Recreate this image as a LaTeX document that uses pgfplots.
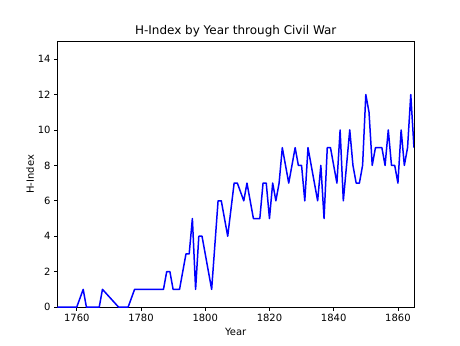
\documentclass[border=0pt]{standalone}
\usepackage{fontspec}
\setmainfont{DejaVu Sans}
\usepackage{pgfplots}
\pgfplotsset{compat=1.18}
\begin{document}
\begin{tikzpicture}
\begin{axis}[
  name=ax,
  scale only axis,
  width=357.1pt, height=266.1pt,
  xmin=1754, xmax=1865, ymin=0, ymax=15,
  xtick={1760,1780,1800,1820,1840,1860},
  ytick={0,2,4,6,8,10,12,14},
  /pgf/number format/assume math mode=true,
  /pgf/number format/1000 sep={},
  tick align=outside,
  tick pos=left,
  major tick length=3.5pt,
  every tick/.style={black, line width=0.8pt},
  axis line style={line width=0.8pt},
  tick label style={font=\fontsize{10}{12}\selectfont},
  label style={font=\fontsize{10}{12}\selectfont},
  xlabel={Year}, ylabel={H-Index},
  title={H-Index by Year through Civil War},
  title style={font=\fontsize{12}{14}\selectfont, yshift=-5pt},
  xlabel style={yshift=0pt},
  ylabel style={yshift=-3pt},
]
\addplot[color=blue, line width=1.5pt, line join=round] coordinates {
(1754,0) (1760,0) (1762,1) (1763,0) (1767,0) (1768,1) (1773,0) (1776,0)
(1778,1) (1787,1) (1788,2) (1789,2) (1790,1) (1792,1) (1794,3) (1795,3)
(1796,5) (1797,1) (1798,4) (1799,4) (1802,1) (1804,6) (1805,6) (1807,4)
(1809,7) (1810,7) (1812,6) (1813,7) (1815,5) (1817,5) (1818,7) (1819,7)
(1820,5) (1821,7) (1822,6) (1823,7) (1824,9) (1826,7) (1828,9) (1829,8)
(1830,8) (1831,6) (1832,9) (1835,6) (1836,8) (1837,5) (1838,9) (1839,9)
(1841,7) (1842,10) (1843,6) (1845,10) (1846,8) (1847,7) (1848,7) (1849,8)
(1850,12) (1851,11) (1852,8) (1853,9) (1855,9) (1856,8) (1857,10) (1858,8)
(1859,8) (1860,7) (1861,10) (1862,8) (1863,9) (1864,12) (1865,9)
};
\end{axis}
\useasboundingbox ([xshift=-57.6pt,yshift=-38.0pt]ax.south west) rectangle ([xshift=46.1pt,yshift=41.5pt]ax.north east);
\end{tikzpicture}
\end{document}
